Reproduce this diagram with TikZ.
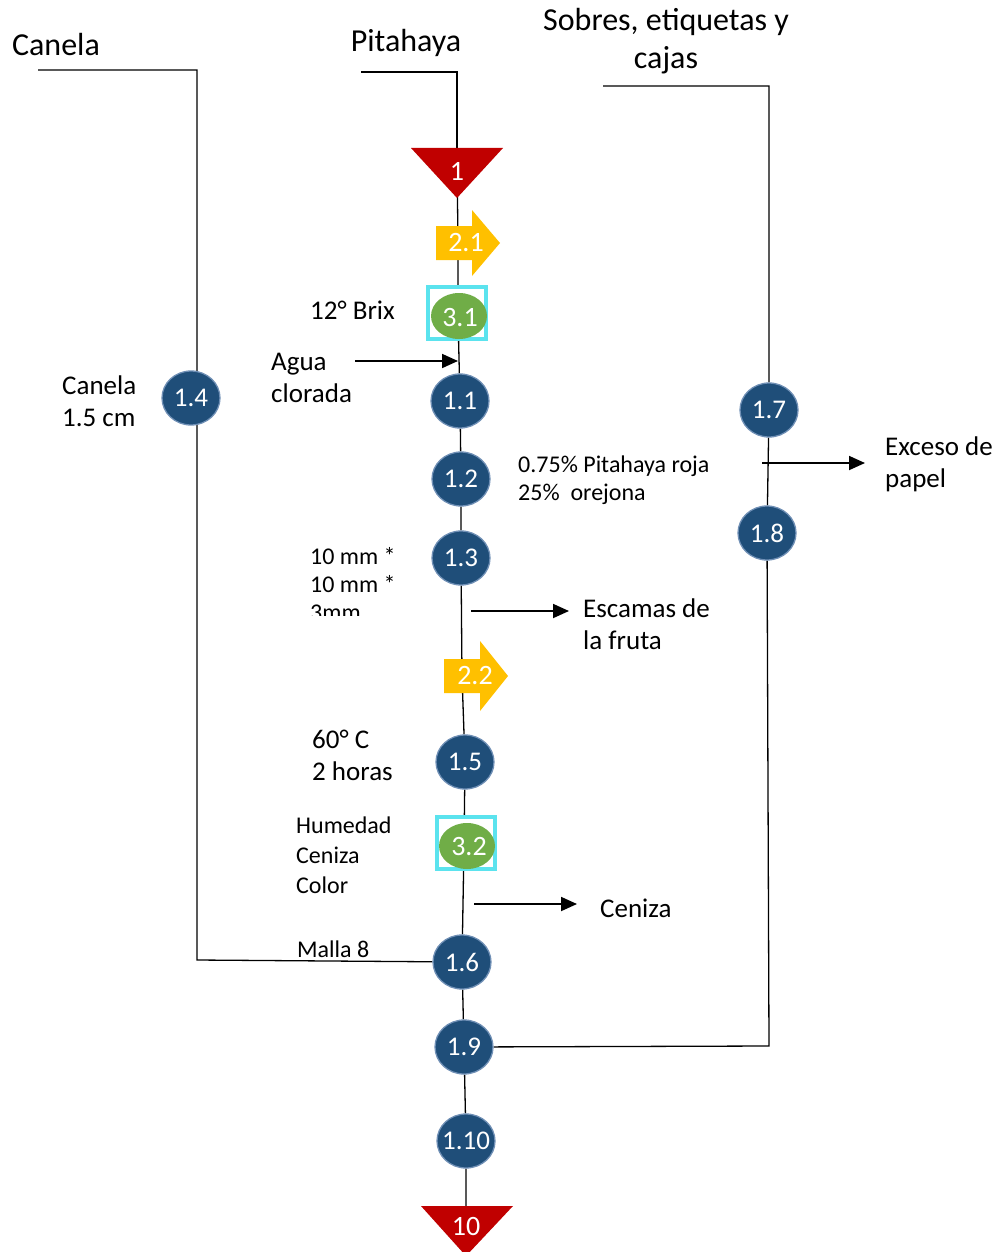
\documentclass[tikz,border=0pt]{standalone}
\usepackage{fontspec}
\setmainfont{Carlito}
\usetikzlibrary{backgrounds,arrows.meta,shapes.geometric}
\definecolor{dblue}{HTML}{1F4E79}
\definecolor{bord}{HTML}{6F8FB5}
\definecolor{dred}{HTML}{C00000}
\definecolor{gold}{HTML}{FFC000}
\definecolor{grn}{HTML}{70AD47}
\definecolor{cyn}{HTML}{5BE3EE}
\tikzset{
  x=1pt,y=-1pt,
  op/.style={ellipse,fill=dblue,draw=bord,line width=1.3pt,minimum width=58pt,minimum height=54pt,inner sep=0pt,text=white,font=\fontsize{27}{29}\selectfont},
  lbl/.style={font=\fontsize{27}{32}\selectfont,align=left,inner sep=0pt},
  ttl/.style={font=\fontsize{32}{38}\selectfont,inner sep=0pt},
  sm/.style={font=\fontsize{24}{28}\selectfont,align=left,inner sep=0pt},
  wlbl/.style={text=white,font=\fontsize{28}{30}\selectfont,inner sep=0pt},
  conn/.style={line width=1.3pt},
  arr/.style={line width=1.8pt,-{Triangle[length=16pt,width=14pt]}},
}
\begin{document}
\begin{tikzpicture}
\useasboundingbox (0,0) rectangle (1002,1252);
% titles
\node[ttl] (tcan) at (56,45) {Canela};
\node[ttl] (tpit) at (406,43) {Pitahaya};
\node[ttl,align=center] (tsob) at (666,41) {Sobres, etiquetas y\\cajas};
% triangle 1
\fill[dred] (411,148) -- (503,148) -- (457,198) -- cycle;
\node[wlbl] (t1) at (457,171) {1};
\coordinate (t1c) at (457,160);
% arrow 2.1
\coordinate (l21) at (458,243);
\fill[gold] (436,226) -- (472,226) -- (472,210) -- (500,243) -- (472,276) -- (472,260) -- (436,260) -- cycle;
\node[wlbl] (a21) at (466,243) {2.1};
% square 3.1
\coordinate (l31) at (458,316);
\draw[cyn,line width=3.2pt,fill=white] (428,287) rectangle (486,339);
\fill[grn] (459,316) ellipse [x radius=28pt,y radius=23pt];
\node[wlbl] (q31) at (460,318) {3.1};
% ops
\node[op] (n11) at (460,401) {1.1};
\node[op] (n12) at (461,479) {1.2};
\node[op] (n13) at (461,558) {1.3};
% arrow 2.2
\coordinate (l22) at (462,676);
\fill[gold] (444,659) -- (480,659) -- (480,641) -- (508,676) -- (480,711) -- (480,693) -- (444,693) -- cycle;
\node[wlbl] (a22) at (475,676) {2.2};
\node[op] (n15) at (465,762) {1.5};
% square 3.2
\coordinate (l32) at (464,846);
\draw[cyn,line width=3.2pt,fill=white] (437,817) rectangle (495,869);
\fill[grn] (467,846) ellipse [x radius=28pt,y radius=23pt];
\node[wlbl] (q32) at (469,847) {3.2};
\node[op] (n16) at (462,962) {1.6};
\node[op] (n19) at (464,1047) {1.9};
\node[op,inner xsep=-7pt] (n110) at (466,1141) {1.10};
% triangle 10
\fill[dred] (421,1206) -- (513,1206) -- (466,1256) -- cycle;
\node[wlbl] (t10) at (466,1226) {10};
\coordinate (t10c) at (466,1210);
% left branch
\node[op] (n14) at (191,398) {1.4};
% right branch
\node[op] (n17) at (769,410) {1.7};
\node[op] (n18) at (767,533) {1.8};
% connectors (background)
\begin{scope}[on background layer]
\coordinate (p0) at (361,72);
\coordinate (p1) at (457,72);
\draw[conn] (p0) -- (p1) -- (t1c);
\draw[conn] (t1c) -- (l21) -- (l31) -- (n11) -- (n12) -- (n13) -- (l22) -- (n15) -- (l32) -- (n16) -- (n19) -- (n110) -- (t10c);
\coordinate (c0) at (38,70);
\coordinate (c1) at (197,70);
\coordinate (c2) at (197,960);
\draw[conn] (c0) -- (c1) -- (c2) -- (n16);
\coordinate (s0) at (603,86);
\coordinate (s1) at (769,86);
\coordinate (s2) at (769,1046);
\draw[conn] (s0) -- (s1) -- (n17) -- (n18) -- (s2) -- (n19);
\end{scope}
% labels
\node[lbl,anchor=west] (brix) at (310,310) {12° Brix};
\node[lbl,anchor=west] (agua) at (271,378) {Agua\\clorada};
\coordinate (ag0) at (355,361);
\coordinate (ag1) at (458,361);
\draw[arr] (ag0) -- (ag1);
\node[lbl,anchor=west] (can15) at (62,401) {Canela\\1.5 cm};
\node[sm,anchor=west] (pct) at (518,480) {0.75\% Pitahaya roja\\25\%\ \ orejona};
\begin{scope}
\clip (300,535) rectangle (420,615);
\node[sm,anchor=west] (mm) at (310,584) {10 mm *\\10 mm *\\3mm};
\end{scope}
\coordinate (e0) at (471,611);
\coordinate (e1) at (569,611);
\draw[arr] (e0) -- (e1);
\node[lbl,anchor=west] (esc) at (583,624) {Escamas de\\la fruta};
\node[lbl,anchor=west] (temp) at (312,755) {60° C\\2 horas};
\node[sm,anchor=west,font=\fontsize{24}{30}\selectfont] (hum) at (296,855) {Humedad\\Ceniza\\Color};
\coordinate (z0) at (474,904);
\coordinate (z1) at (577,904);
\draw[arr] (z0) -- (z1);
\node[lbl,anchor=west] (cen) at (600,908) {Ceniza};
\node[sm,anchor=west] (malla) at (297,949) {Malla 8};
\coordinate (x0) at (762,463);
\coordinate (x1) at (865,463);
\draw[arr] (x0) -- (x1);
\node[lbl,anchor=west] (exc) at (885,464) {Exceso de\\papel};
\end{tikzpicture}
\end{document}
